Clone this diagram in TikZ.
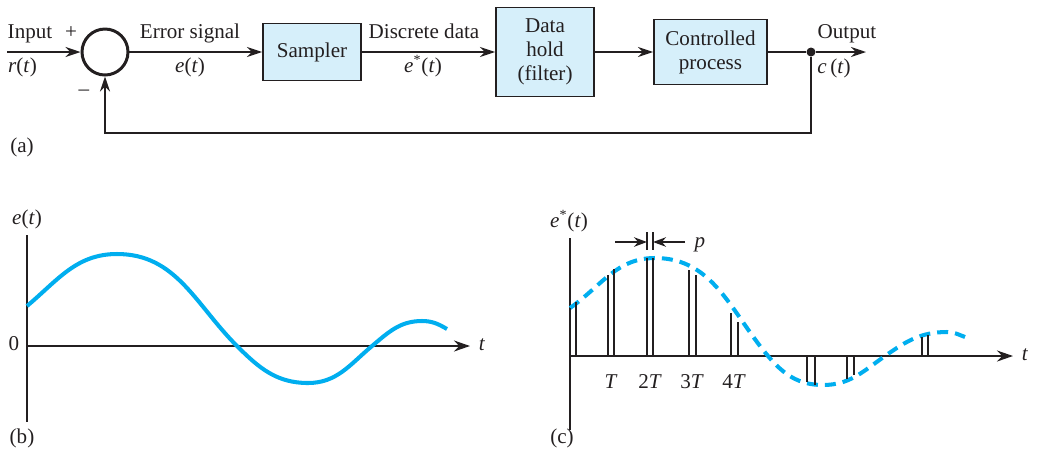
\documentclass[tikz,border=0pt]{standalone}
\usepackage{fontspec}
\setmainfont{Liberation Serif}
\usetikzlibrary{arrows.meta,positioning}
\definecolor{ink}{RGB}{35,31,32}
\definecolor{sigcyan}{RGB}{0,174,239}
\definecolor{boxfill}{RGB}{214,239,250}

\begin{document}
\begin{tikzpicture}[x=0.02cm,y=0.02cm,
    font=\fontsize{12}{13.7}\selectfont,
    line/.style={draw=ink,line width=1.1pt},
    sig/.style={line,-{Stealth[length=0.3cm,width=0.2cm]}},
    block/.style={draw=ink,line width=1.1pt,fill=boxfill,align=center,inner sep=0pt,text=ink},
    lbl/.style={anchor=base,inner sep=0pt,text=ink},
    axis/.style={draw=ink,line width=1.2pt},
    wave/.style={draw=sigcyan,line width=2.3pt},
    pulse/.style={draw=ink,line width=0.9pt}]
    \useasboundingbox (0,0) rectangle (1040,-451);

    % (a) sampled-data loop
    \coordinate (in) at (7,-52);
    \node[circle,draw=ink,line width=1.7pt,minimum size=0.92cm,inner sep=0pt] (sum) at (105,-52) {};
    \node[block,minimum width=1.96cm,minimum height=1.14cm] (sampler) at (312,-52) {Sampler};
    \node[block,minimum width=1.96cm,minimum height=1.78cm] (hold) at (545,-52) {Data\\hold\\(filter)};
    \node[block,minimum width=2.26cm,minimum height=1.3cm] (plant) at (710.5,-52) {Controlled\\process};
    \node[circle,fill=ink,inner sep=0pt,minimum size=0.18cm] (split) at (811,-52) {};
    \coordinate (out) at (866,-52);
    \coordinate (fb) at (811,-133);

    \draw[sig] (in) -- (sum.west);
    \draw[sig] (sum.east) -- (sampler.west);
    \draw[sig] (sampler.east) -- (hold.west);
    \draw[sig] (hold.east) -- (plant.west);
    \draw[line] (plant.east) -- (split);
    \draw[sig] (split) -- (out);
    \draw[sig] (split) -- (fb) -| (sum.south); % feedback

    \node[lbl] (inlbl) at (30,-38) {Input};
    \node[lbl] (plus) at (71,-38) {+};
    \node[lbl] (rlbl) at (22.5,-72) {\textit{r}(\textit{t})};
    \node[lbl] (minus) at (84,-95) {--};
    \node[lbl] (errlbl) at (190,-38) {Error signal};
    \node[lbl] (elbl) at (190,-72) {\textit{e}(\textit{t})};
    \node[lbl] (disclbl) at (424,-38) {Discrete data};
    \node[lbl] (estlbl) at (423,-72) {\textit{e}\textsuperscript{*}(\textit{t})};
    \node[lbl] (outlbl) at (847,-38) {Output};
    \node[lbl] (clbl) at (834,-73) {\textit{c}\,(\textit{t})};
    \node[lbl] (tagA) at (22,-152) {(a)};

    % (b) continuous error
    \draw[axis] (27,-235) -- (27,-422);
    \draw[axis,-{Stealth[length=0.32cm,width=0.22cm]}] (27,-346) -- (470,-346);
    \draw[wave] (27,-306) to[out=40,in=180] (117,-254) to[out=0,in=135] (237,-346)
        to[out=-45,in=180] (308,-383) to[out=0,in=-140] (372,-346)
        to[out=40,in=180] (422,-321) to[out=0,in=150] (447,-329);
    \node[lbl] (eaxis) at (27,-224) {\textit{e}(\textit{t})};
    \node[lbl] (zero) at (14,-350) {0};
    \node[lbl] (tb) at (482,-350) {\textit{t}};
    \node[lbl] (tagB) at (22,-443) {(b)};

    % (c) sampled error
    \draw[axis] (570,-238) -- (570,-430);
    \draw[axis,-{Stealth[length=0.32cm,width=0.22cm]}] (570,-356) -- (1013,-356);
    \draw[wave,dash pattern=on 0.22cm off 0.14cm] (570,-308) to[out=35,in=180] (655,-258)
        to[out=0,in=130] (768,-356) to[out=-50,in=180] (823,-385)
        to[out=0,in=-145] (885,-356) to[out=35,in=180] (947,-332) to[out=0,in=160] (965,-337);
    \foreach \xa/\ya/\xb/\yb in {570/308/576/302, 608/275/614/269, 647/258/653/258,
        689/270/696/275, 731/313/738/322, 807/382/815/385, 847/379/854/375, 922/337/928/335}
        \draw[pulse] (\xa,-\ya) -- (\xa,-356) -- (\xb,-356) -- (\xb,-\yb);
    \foreach \x/\t [count=\i] in {611/{\textit{T}},650/{2\textit{T}},692/{3\textit{T}},734/{4\textit{T}}}
        \node[lbl] (tick\i) at (\x,-388) {\t};

    % pulse width p
    \coordinate (pl) at (647,-242);
    \coordinate (pr) at (653,-242);
    \draw[pulse] (647,-232) -- (647,-250);
    \draw[pulse] (653,-232) -- (653,-250);
    \draw[line,-{Stealth[length=0.26cm,width=0.19cm]}] (615,-242) -- (pl);
    \draw[line,-{Stealth[length=0.26cm,width=0.19cm]}] (685,-242) -- (pr);
    \node[lbl] (plbl) at (700,-247) {\textit{p}};

    \node[lbl] (estaxis) at (569,-227) {\textit{e}\textsuperscript{*}(\textit{t})};
    \node[lbl] (tc) at (1025,-360) {\textit{t}};
    \node[lbl] (tagC) at (562,-443) {(c)};
\end{tikzpicture}
\end{document}
